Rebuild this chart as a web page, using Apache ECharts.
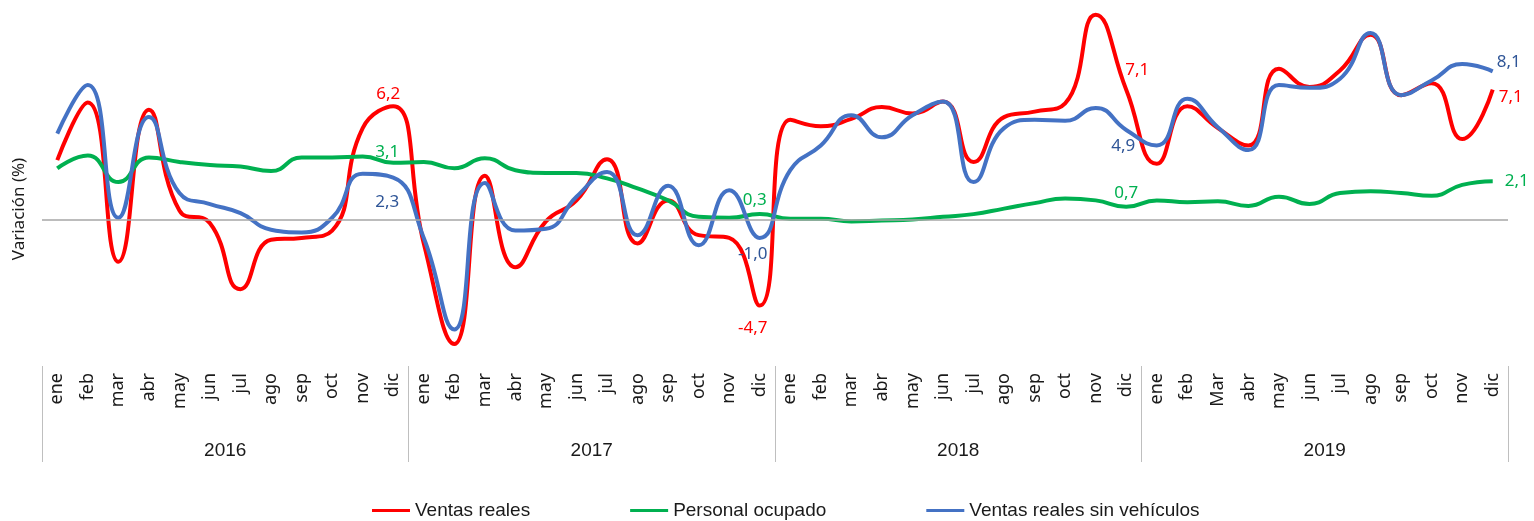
<!DOCTYPE html>
<html><head><meta charset="utf-8">
<script src="https://cdn.jsdelivr.net/npm/echarts@6/dist/echarts.min.js"></script>
<style>html,body{margin:0;padding:0;background:#fff}#c{width:1534px;height:521px}</style>
</head><body><div id="c"></div>
<script>
const months = ['ene','feb','mar','abr','may','jun','jul','ago','sep','oct','nov','dic',
  'ene','feb','mar','abr','may','jun','jul','ago','sep','oct','nov','dic',
  'ene','feb','mar','abr','may','jun','jul','ago','sep','oct','nov','dic',
  'ene','feb','Mar','abr','may','jun','jul','ago','sep','oct','nov','dic'];
const years = ['2016','2017','2018','2019'];
const ventasReales = [3.25, 6.4, -2.3, 6.0, 0.5, -0.2, -3.8, -1.1, -1.0, -0.6, 5.0, 6.2,
  -1.3, -6.8, 2.4, -2.6, -0.1, 1.05, 3.3, -1.3, 1.05, -0.85, -1.0, -4.7,
  5.45, 5.1, 5.5, 6.15, 5.8, 6.45, 3.15, 5.6, 5.9, 6.35, 11.2, 7.1,
  3.05, 6.2, 5.0, 4.05, 8.25, 7.25, 8.15, 10.1, 6.8, 7.45, 4.4, 7.1];
const personalOcupado = [2.8, 3.5, 2.05, 3.4, 3.15, 2.98, 2.9, 2.65, 3.4, 3.4, 3.45, 3.1,
  3.15, 2.8, 3.35, 2.7, 2.55, 2.55, 2.25, 1.7, 1.05, 0.15, 0.1, 0.3,
  0.05, 0.05, -0.1, -0.05, 0.0, 0.15, 0.3, 0.6, 0.9, 1.15, 1.05, 0.7,
  1.05, 0.95, 1.0, 0.75, 1.25, 0.85, 1.45, 1.55, 1.45, 1.3, 1.9, 2.1];
const ventasSinVehiculos = [4.7, 7.35, 0.1, 5.6, 1.45, 0.85, 0.35, -0.55, -0.7, 0.1, 2.5, 2.3,
  -1.0, -6.0, 2.0, -0.6, -0.5, 1.25, 2.6, -0.85, 1.85, -1.4, 1.6, -1.0,
  2.7, 4.05, 5.7, 4.5, 5.7, 6.45, 2.05, 5.0, 5.45, 5.4, 6.1, 4.9,
  4.05, 6.6, 5.05, 3.8, 7.35, 7.2, 7.7, 10.2, 6.8, 7.6, 8.5, 8.1];
const labelIdx = [11, 23, 35, 47];

const fmt = p => Number(p.value).toFixed(1).replace('.', ',');
const labelStyles = {
  red: {11:{position:'top',distance:3,offset:[-5,0]},23:{position:'bottom',distance:14,offset:[-7,0]},
        35:{position:'top',distance:5,offset:[11,-6]},47:{position:'right',distance:6,offset:[0,7]}},
  green:{11:{position:'top',distance:5,offset:[-6,3]},23:{position:'top',distance:5,offset:[-5,0]},
        35:{position:'top',distance:5,offset:[0,0]},47:{position:'right',distance:12,offset:[0,0]}},
  blue:{11:{position:'bottom',distance:16,offset:[-6,0]},23:{position:'bottom',distance:8,offset:[-7,0]},
        35:{position:'bottom',distance:8,offset:[-3,0]},47:{position:'right',distance:4,offset:[0,-9]}}
};
function build(arr, key, color){
  return arr.map((v,i)=>{
    if(labelIdx.indexOf(i) < 0) return v;
    const s = labelStyles[key][i];
    return {value:v, label:Object.assign({show:true, color:color, fontSize:17, fontFamily:'"Noto Sans"', formatter:fmt}, s)};
  });
}
const chart = echarts.init(document.getElementById('c'));
chart.setOption({
  animation:false,
  grid:{left:42, right:26, top:0, bottom:155},
  xAxis:[
    {type:'category', data:months, boundaryGap:true, axisLine:{show:false}, axisTick:{show:false},
     axisLabel:{interval:0, rotate:90, margin:7, fontSize:18, fontFamily:'"Noto Sans"', color:'#1a1a1a'}},
    {type:'category', data:years, position:'bottom', offset:0, boundaryGap:true, axisLine:{show:false},
     axisTick:{show:true, length:96, lineStyle:{color:'#bfbfbf', width:1}},
     axisLabel:{interval:0, margin:75, fontSize:19, fontFamily:'"Liberation Sans"', color:'#1a1a1a'}}
  ],
  yAxis:{type:'value', min:-8, max:12, show:false},
  legend:{left:367, top:496, icon:'rect', itemWidth:38, itemHeight:3, itemGap:100,
    textStyle:{fontSize:19, fontFamily:'"Liberation Sans"', color:'#1a1a1a'},
    data:['Ventas reales','Personal ocupado','Ventas reales sin vehículos']},
  graphic:[{type:'text', x:19, y:209, rotation:Math.PI/2,
    style:{text:'Variación (%)', font:'17px "Noto Sans"', fill:'#1a1a1a', align:'center', verticalAlign:'middle'}}],
  series:[
    {name:'Ventas reales', type:'line', smooth:0.5, symbol:'circle', symbolSize:0, showSymbol:true,
     lineStyle:{color:'#FF0000', width:4}, itemStyle:{color:'#FF0000'}, data:build(ventasReales,'red','#FF0000'),
     markLine:{silent:true, symbol:'none', label:{show:false}, lineStyle:{color:'#a6a6a6', width:1.5, type:'solid'}, data:[{yAxis:0}]}, z:2},
    {name:'Personal ocupado', type:'line', smooth:0.5, symbol:'circle', symbolSize:0, showSymbol:true,
     lineStyle:{color:'#00B050', width:4}, itemStyle:{color:'#00B050'}, data:build(personalOcupado,'green','#00B050'), z:3},
    {name:'Ventas reales sin vehículos', type:'line', smooth:0.5, symbol:'circle', symbolSize:0, showSymbol:true,
     lineStyle:{color:'#4472C4', width:4}, itemStyle:{color:'#4472C4'}, data:build(ventasSinVehiculos,'blue','#2F5597'), z:4}
  ]
});
</script></body></html>
